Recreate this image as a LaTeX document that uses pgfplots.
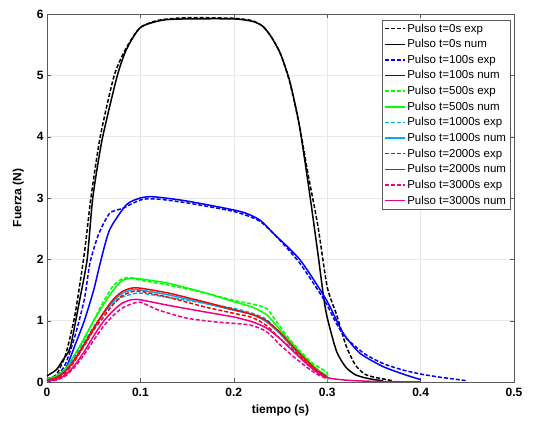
\documentclass[border=0pt]{standalone}
\usepackage{pgfplots}
\pgfplotsset{compat=1.18}
\usepackage{fontspec}
\setmainfont{Liberation Sans}

\pgfplotsset{
  dashline/.style={line width=1.5pt, dash pattern=on 4pt off 2pt, smooth, tension=0.4},
  fullline/.style={line width=1.5pt, solid, smooth, tension=0.4},
}

\begin{document}
\begin{tikzpicture}
\path[use as bounding box] (-47pt,-48pt) rectangle (486pt,382pt);
\begin{axis}[scale only axis, width=467pt, height=368pt,
  at={(0,0)}, anchor=south west,
  xmin=0, xmax=0.5, ymin=0, ymax=6,
  xtick={0,0.1,...,0.5}, ytick={0,...,6},
  xticklabels={0,0.1,0.2,0.3,0.4,0.5},
  /pgf/number format/assume math mode=true,
  tick label style={font=\fontsize{12}{12}\selectfont\bfseries},
  xticklabel style={yshift=-3pt},
  label style={font=\fontsize{12}{12}\selectfont\bfseries},
  xlabel={tiempo (s)}, ylabel={Fuerza (N)},
  xlabel style={yshift=-1pt}, ylabel style={yshift=6pt},
  grid=major, grid style={gray!18},
  axis line style={gray!70!black}, tick style={gray!70!black},
  tick align=inside, major tick length=4pt,
  legend image code/.code={\draw[#1, line width=1.5pt] (0pt,0pt) -- (20pt,0pt);},
  legend style={at={(0.992,0.985)}, anchor=north east, draw=gray!70!black,
    font=\fontsize{11.5}{12}\selectfont, inner sep=2pt, row sep=1.8pt},
  legend cell align=left]

\addplot[color=black, dashline] coordinates {(0,0.05) (0.01,0.12) (0.02,0.45) (0.03,1.1) (0.04,2.1) (0.047,3.0) (0.057,4.0) (0.072,5.0) (0.085,5.45) (0.1,5.78) (0.12,5.9) (0.15,5.94) (0.2,5.93) (0.22,5.89) (0.231,5.8) (0.24,5.63) (0.25,5.35) (0.26,4.88) (0.27,4.2) (0.28,3.35) (0.29,2.55) (0.30,1.55) (0.31,1.1) (0.32,0.6) (0.33,0.28) (0.34,0.13) (0.35,0.08) (0.36,0.05) (0.37,0.02)};
\addlegendentry{Pulso t=0s exp}
\addplot[color=black, fullline] coordinates {(0,0.1) (0.01,0.2) (0.017,0.36) (0.025,0.57) (0.035,1.34) (0.043,2.0) (0.049,3.0) (0.059,3.95) (0.075,4.98) (0.085,5.42) (0.1,5.78) (0.124,5.9) (0.15,5.92) (0.2,5.92) (0.22,5.88) (0.231,5.8) (0.24,5.63) (0.25,5.35) (0.26,4.9) (0.27,4.2) (0.28,3.2) (0.29,2.1) (0.296,1.4) (0.30,1.05) (0.31,0.5) (0.32,0.24) (0.33,0.12) (0.34,0.07) (0.35,0.04) (0.36,0.02)};
\addlegendentry{Pulso t=0s num}

\addplot[color=blue, dashline] coordinates {(0,0.03) (0.01,0.08) (0.02,0.3) (0.03,0.75) (0.04,1.35) (0.046,1.94) (0.055,2.4) (0.067,2.75) (0.081,2.83) (0.09,2.9) (0.103,2.98) (0.12,2.98) (0.15,2.92) (0.2,2.78) (0.228,2.62) (0.25,2.3) (0.27,1.95) (0.29,1.5) (0.30,1.25) (0.31,0.95) (0.32,0.72) (0.34,0.46) (0.36,0.3) (0.38,0.2) (0.40,0.13) (0.42,0.08) (0.44,0.04) (0.45,0.02)};
\addlegendentry{Pulso t=100s exp}
\addplot[color=blue, fullline] coordinates {(0,0.05) (0.01,0.1) (0.02,0.22) (0.03,0.6) (0.04,1.0) (0.05,1.5) (0.057,1.94) (0.067,2.48) (0.085,2.89) (0.1,3.0) (0.114,3.02) (0.15,2.95) (0.207,2.78) (0.228,2.64) (0.242,2.43) (0.271,1.99) (0.299,1.34) (0.317,0.8) (0.335,0.47) (0.36,0.25) (0.385,0.11) (0.4,0.04)};
\addlegendentry{Pulso t=100s num}

\addplot[color=green, dashline] coordinates {(0,0.03) (0.01,0.07) (0.02,0.2) (0.03,0.45) (0.04,0.7) (0.05,1.0) (0.06,1.3) (0.07,1.55) (0.08,1.68) (0.09,1.7) (0.1,1.66) (0.13,1.58) (0.17,1.45) (0.2,1.33) (0.22,1.27) (0.235,1.2) (0.245,1.0) (0.257,0.75) (0.27,0.52) (0.285,0.3) (0.3,0.15) (0.3,0.0)};
\addlegendentry{Pulso t=500s exp}
\addplot[color=green, fullline] coordinates {(0,0.05) (0.01,0.1) (0.02,0.22) (0.03,0.45) (0.04,0.72) (0.05,1.0) (0.06,1.25) (0.07,1.48) (0.08,1.65) (0.09,1.69) (0.1,1.68) (0.13,1.61) (0.17,1.45) (0.2,1.31) (0.22,1.22) (0.235,1.1) (0.245,0.93) (0.257,0.72) (0.27,0.5) (0.282,0.31) (0.29,0.2) (0.3,0.1)};
\addlegendentry{Pulso t=500s num}

\addplot[color=cyan, dashline] coordinates {(0,0.03) (0.01,0.08) (0.02,0.2) (0.03,0.42) (0.04,0.65) (0.05,0.9) (0.06,1.1) (0.07,1.28) (0.08,1.38) (0.09,1.43) (0.1,1.45) (0.13,1.38) (0.17,1.28) (0.2,1.2) (0.22,1.12) (0.235,1.02) (0.25,0.78) (0.265,0.52) (0.28,0.3) (0.29,0.18) (0.3,0.08)};
\addlegendentry{Pulso t=1000s exp}
\addplot[color=cyan, fullline] coordinates {(0,0.03) (0.01,0.07) (0.02,0.18) (0.03,0.37) (0.04,0.6) (0.05,0.86) (0.06,1.1) (0.07,1.3) (0.08,1.44) (0.09,1.5) (0.1,1.5) (0.13,1.42) (0.17,1.28) (0.2,1.17) (0.22,1.1) (0.235,0.98) (0.25,0.78) (0.265,0.53) (0.28,0.3) (0.29,0.17) (0.3,0.08)};
\addlegendentry{Pulso t=1000s num}

\addplot[color=red, dashline] coordinates {(0,0.02) (0.01,0.05) (0.02,0.15) (0.03,0.35) (0.04,0.6) (0.05,0.85) (0.06,1.05) (0.07,1.25) (0.08,1.4) (0.09,1.47) (0.1,1.48) (0.13,1.38) (0.17,1.22) (0.2,1.12) (0.22,1.05) (0.235,0.92) (0.25,0.7) (0.265,0.5) (0.28,0.28) (0.29,0.15) (0.3,0.06)};
\addlegendentry{Pulso t=2000s exp}
\addplot[color=red, fullline] coordinates {(0,0.03) (0.01,0.07) (0.02,0.18) (0.03,0.38) (0.04,0.62) (0.05,0.88) (0.06,1.12) (0.07,1.33) (0.08,1.47) (0.09,1.53) (0.1,1.53) (0.13,1.45) (0.17,1.3) (0.2,1.18) (0.22,1.1) (0.235,1.0) (0.25,0.8) (0.265,0.55) (0.28,0.32) (0.29,0.18) (0.3,0.08)};
\addlegendentry{Pulso t=2000s num}

\addplot[color=magenta, dashline] coordinates {(0,0.01) (0.01,0.03) (0.02,0.1) (0.03,0.25) (0.04,0.45) (0.05,0.68) (0.06,0.9) (0.07,1.07) (0.08,1.2) (0.09,1.27) (0.1,1.3) (0.12,1.17) (0.15,1.04) (0.18,0.98) (0.217,0.93) (0.235,0.82) (0.25,0.6) (0.265,0.4) (0.28,0.22) (0.29,0.12) (0.3,0.05)};
\addlegendentry{Pulso t=3000s exp}
\addplot[color=magenta, fullline] coordinates {(0,0.02) (0.01,0.04) (0.02,0.12) (0.03,0.28) (0.04,0.5) (0.05,0.75) (0.06,0.98) (0.07,1.15) (0.08,1.28) (0.09,1.34) (0.1,1.34) (0.13,1.25) (0.17,1.14) (0.2,1.06) (0.22,0.98) (0.235,0.88) (0.25,0.7) (0.265,0.48) (0.28,0.27) (0.29,0.15) (0.3,0.07) (0.32,0.03) (0.35,0.01) (0.4,0.0)};
\addlegendentry{Pulso t=3000s num}
\end{axis}
\end{tikzpicture}
\end{document}
